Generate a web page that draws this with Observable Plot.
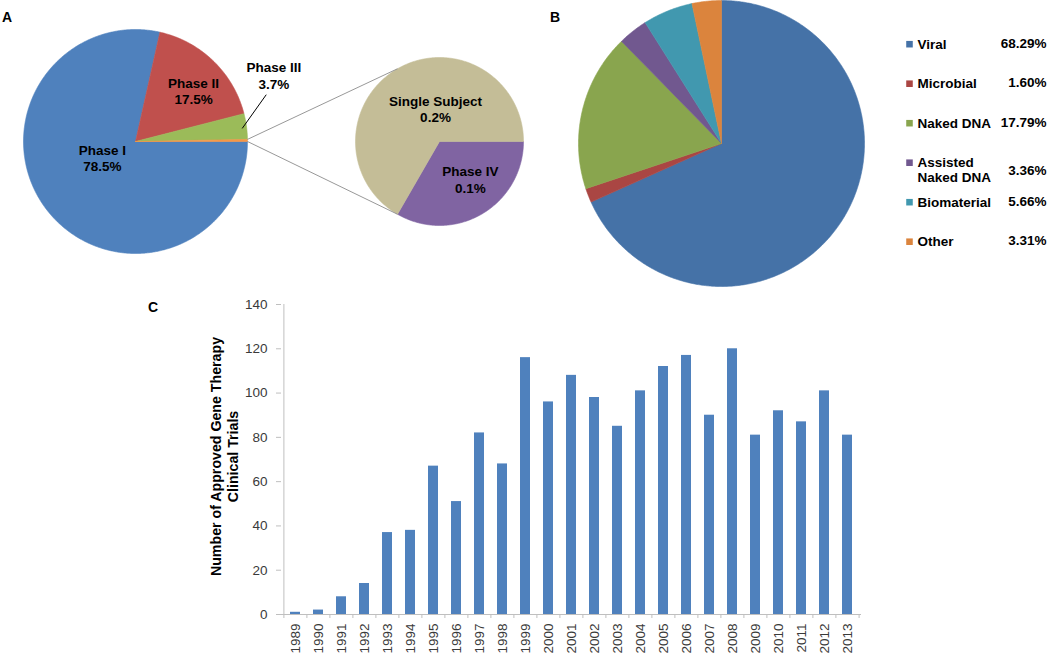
<!DOCTYPE html>
<html>
<head>
<meta charset="utf-8">
<script src="https://cdn.jsdelivr.net/npm/d3@7"></script>
<script src="https://cdn.jsdelivr.net/npm/@observablehq/plot@0.6"></script>
<style>
  html, body { margin: 0; padding: 0; background: #ffffff; }
  #fig { position: relative; width: 1050px; height: 657px; overflow: hidden; font-family: "Liberation Sans", Arial, Helvetica, sans-serif; }
  .pane { position: absolute; }
  .tag { position: absolute; font-weight: bold; font-size: 14px; line-height: 14px; color: #000; }
</style>
</head>
<body>
<div id="fig">
  <div class="pane" id="paneA" style="left:0px;top:0px"></div>
  <div class="pane" id="paneB" style="left:530px;top:0px"></div>
  <div class="pane" id="paneC" style="left:140px;top:290px"></div>
  <div class="tag" style="left:2px;top:10px">A</div>
  <div class="tag" style="left:550px;top:10px">B</div>
  <div class="tag" style="left:148px;top:300px">C</div>
</div>
<script>
// ---------------- DATA ----------------
// Panel A: trial phases (%)
const phaseNames  = ["Phase I", "Phase II", "Phase III", "Other"];
const phaseShares = [78.5, 17.5, 3.7, 0.3];
// Panel A: breakdown of the small "Other" slice (%)
const otherNames  = ["Phase IV", "Single Subject"];
const otherShares = [0.1, 0.2];
// Panel B: vector types (%)
const vectorNames  = ["Viral", "Microbial", "Naked DNA", "Assisted\nNaked DNA", "Biomaterial", "Other"];
const vectorShares = [68.29, 1.60, 17.79, 3.36, 5.66, 3.31];
// Panel C: approved gene therapy clinical trials per year
const years  = ["1989","1990","1991","1992","1993","1994","1995","1996","1997","1998","1999","2000","2001",
                "2002","2003","2004","2005","2006","2007","2008","2009","2010","2011","2012","2013"];
const trials = [1, 2, 8, 14, 37, 38, 67, 51, 82, 68, 116, 96, 108,
                98, 85, 101, 112, 117, 90, 120, 81, 92, 87, 101, 81];
const yTicks = [0, 20, 40, 60, 80, 100, 120, 140];
const yTitle = "Number of Approved Gene Therapy\nClinical Trials";

// ---------------- STYLE / LAYOUT ----------------
const FONT = "'Liberation Sans', Arial, Helvetica, sans-serif";
const phaseColors  = ["#4F81BD", "#C0504D", "#9BBB59", "#F79646"];
const otherColors  = ["#8064A2", "#C4BD97"];
const vectorColors = ["#4572A7", "#AA4643", "#89A54E", "#71588F", "#4198AF", "#DB843D"];
const barColor = "#4F81BD";

// pie geometry (pixel space of each panel)
const bigPie   = {cx: 135, cy: 141, r: 112, start: 90};
const smallPie = {cx: 439, cy: 141, r: 84,  start: 90};
const pieB     = {cx: 191, cy: 143, r: 143, start: 0};
// label placement: [angle (deg clockwise from 12 o'clock), radius fraction]
const phaseLabelPos = [[244, 0.33], [48.7, 0.69], [64.4, 1.37], null];
const otherLabelPos = [[140.8, 0.58], [353, 0.39]];
const phase3Leader  = [[70.3, 1.24], [83, 0.96]];

function polar(p, deg, f) {
  const t = deg * Math.PI / 180;
  return {x: p.cx + p.r * f * Math.sin(t), y: p.cy - p.r * f * Math.cos(t)};
}
function slices(values, colors, p) {
  const total = d3.sum(values);
  let a = p.start;
  return values.map((v, i) => {
    const a0 = a, a1 = a + v / total * 360;
    a = a1;
    const n = Math.max(2, Math.ceil((a1 - a0) / 0.5));
    const pts = [{x: p.cx, y: p.cy}];
    for (let k = 0; k <= n; k++) pts.push(polar(p, a0 + (a1 - a0) * k / n, 1));
    pts.push({x: p.cx, y: p.cy});
    return {a0, a1, pts, color: colors[i]};
  });
}
function sliceMarks(sl) {
  return sl.map(s => Plot.line(s.pts, {x: "x", y: "y", fill: s.color, stroke: s.color, strokeWidth: 0.6, curve: "linear"}));
}

// ---------------- PANEL A ----------------
{
  const W = 530, H = 290;
  const big = slices(phaseShares, phaseColors, bigPie);
  const small = slices(otherShares, otherColors, smallPie);
  const otherSlice = big[big.length - 1];
  const p1 = polar(bigPie, otherSlice.a0, 1), p2 = polar(bigPie, otherSlice.a1, 1);
  const span = small[0].a1 - small[0].a0;           // Phase IV angular span
  const q1 = polar(smallPie, 360 - (span / 4), 1);   // upper connector end
  const q2 = polar(smallPie, small[0].a1, 1);       // lower connector end
  const connectors = [{x1: p1.x, y1: p1.y, x2: q1.x, y2: q1.y}, {x1: p2.x, y1: p2.y, x2: q2.x, y2: q2.y}];
  const l1 = polar(bigPie, phase3Leader[0][0], phase3Leader[0][1]);
  const l2 = polar(bigPie, phase3Leader[1][0], phase3Leader[1][1]);

  const labels = [];
  phaseNames.forEach((n, i) => {
    if (!phaseLabelPos[i]) return;
    const c = polar(bigPie, phaseLabelPos[i][0], phaseLabelPos[i][1]);
    labels.push({x: c.x, y: c.y, text: `${n}\n${phaseShares[i].toFixed(1)}%`});
  });
  otherNames.forEach((n, i) => {
    const c = polar(smallPie, otherLabelPos[i][0], otherLabelPos[i][1]);
    labels.push({x: c.x, y: c.y, text: `${n}\n${otherShares[i].toFixed(1)}%`});
  });

  const chart = Plot.plot({
    width: W, height: H, margin: 0,
    style: {fontFamily: FONT, background: "transparent"},
    x: {domain: [0, W], range: [0, W], axis: null},
    y: {domain: [0, H], range: [0, H], axis: null},
    marks: [
      ...sliceMarks(big),
      ...sliceMarks(small),
      Plot.link(connectors, {x1: "x1", y1: "y1", x2: "x2", y2: "y2", stroke: "#8C8C8C", strokeWidth: 0.9}),
      Plot.link([{x1: l1.x, y1: l1.y, x2: l2.x, y2: l2.y}], {x1: "x1", y1: "y1", x2: "x2", y2: "y2", stroke: "#000", strokeWidth: 1}),
      Plot.text(labels, {x: "x", y: "y", text: "text", fontSize: 13.5, fontWeight: "bold", fill: "#000", lineHeight: 1.22})
    ]
  });
  document.getElementById("paneA").appendChild(chart);
}

// ---------------- PANEL B ----------------
{
  const W = 520, H = 290;
  const sl = slices(vectorShares, vectorColors, pieB);
  const legendTop = 42.7, legendStep = 39.5, squareX = 379, textX = 387, valueX = 516;
  const rows = vectorNames.map((name, i) => ({
    name, value: vectorShares[i].toFixed(2) + "%", color: vectorColors[i],
    y: legendTop + i * legendStep, lines: name.split("\n").length
  }));
  const chart = Plot.plot({
    width: W, height: H, margin: 0,
    style: {fontFamily: FONT, background: "transparent"},
    x: {domain: [0, W], range: [0, W], axis: null},
    y: {domain: [0, H], range: [0, H], axis: null},
    color: {type: "identity"},
    marks: [
      ...sliceMarks(sl),
      Plot.dot(rows, {x: () => squareX, y: d => d.y + 1, symbol: "square", r: 3.7, fill: "color", stroke: null}),
      Plot.text(rows, {x: () => textX, y: "y", text: "name", textAnchor: "start", lineAnchor: "top", dy: -4.9,
                       lineHeight: 1.11, fontSize: 13.5, fontWeight: "bold", fill: "#000"}),
      Plot.text(rows, {x: () => valueX, y: d => d.y + (d.lines - 1) * 9, text: "value", textAnchor: "end",
                       fontSize: 13.5, fontWeight: "bold", fill: "#000"})
    ]
  });
  document.getElementById("paneB").appendChild(chart);
}

// ---------------- PANEL C ----------------
{
  const W = 740, H = 367, mL = 141, mR = 19, mT = 14, mB = 43;
  const step = (W - mL - mR) / years.length;
  const data = years.map((y, i) => ({year: y, n: trials[i]}));
  const chart = Plot.plot({
    width: W, height: H, marginLeft: mL, marginRight: mR, marginTop: mT, marginBottom: mB,
    style: {fontFamily: FONT, fontSize: "13.5px", color: "#3A3A3A", background: "transparent"},
    x: {type: "band", domain: years, paddingInner: 0.57, paddingOuter: 0.285, axis: null},
    y: {domain: [0, 140], axis: null},
    marks: [
      Plot.barY(data, {x: "year", y: "n", fill: barColor}),
      // category axis line and boundary ticks
      Plot.ruleY([0], {stroke: "#BFBFBF", strokeWidth: 1}),
      Plot.ruleX(years, {x: d => d, y1: 0, y2: 0, dx: -step / 2, insetBottom: -4, stroke: "#BFBFBF"}),
      Plot.ruleX([years[years.length - 1]], {x: d => d, y1: 0, y2: 0, dx: step / 2, insetBottom: -4, stroke: "#BFBFBF"}),
      // value axis line
      Plot.ruleX([years[0]], {x: d => d, y1: 0, y2: 140, dx: -step / 2, stroke: "#BFBFBF"}),
      Plot.axisY({ticks: yTicks, tickSize: 5, tickPadding: 9, stroke: "#BFBFBF", label: null, fontSize: 13.5}),
      Plot.axisX({tickRotate: -90, tickSize: 0, tickPadding: 9, label: null, fontSize: 13.5}),
      Plot.text([yTitle], {frameAnchor: "left", dx: -57, dy: -3, rotate: -90, text: d => d, textAnchor: "middle",
                           lineAnchor: "middle", lineHeight: 1.18, fontSize: 14.2, fontWeight: "bold", fill: "#000"})
    ]
  });
  document.getElementById("paneC").appendChild(chart);
}
</script>
</body>
</html>
